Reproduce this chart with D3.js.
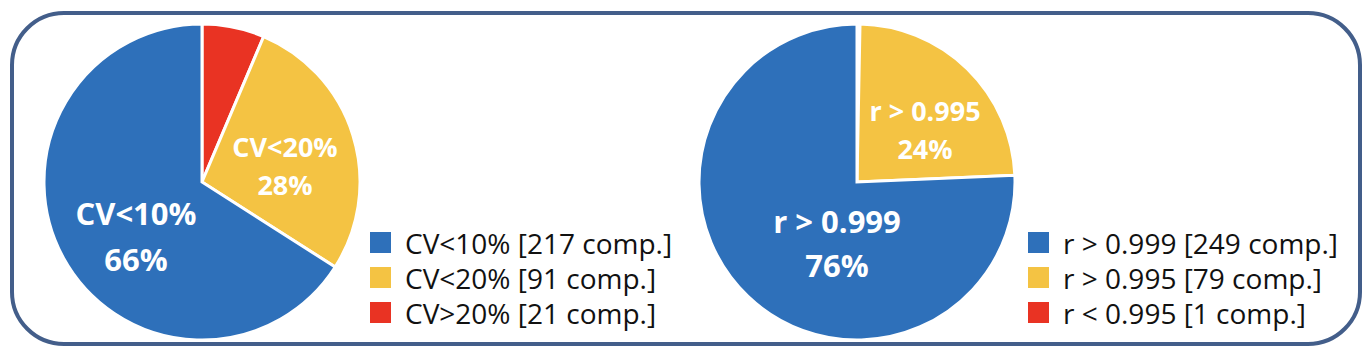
<!DOCTYPE html>
<html><head><meta charset="utf-8">
<script src="https://cdn.jsdelivr.net/npm/d3@7"></script>
<style>html,body{margin:0;padding:0;background:#fff;} svg{display:block;}</style>
</head><body>
<svg id="chart" width="1372" height="358"></svg>
<script>
// Data (legend order)
const cvCategories = ["CV<10%", "CV<20%", "CV>20%"];
const cvValues = [217, 91, 21];
const cvLabels = ["CV<10%", "CV<20%", null];
const cvPercents = ["66%", "28%", null];

const rCategories = ["r > 0.999", "r > 0.995", "r < 0.995"];
const rValues = [249, 79, 1];
const rLabels = ["r > 0.999", "r > 0.995", null];
const rPercents = ["76%", "24%", null];

const colors = ["#2E70BA", "#F4C343", "#E93323"];

const svg = d3.select("#chart");
const FONT = "'Open Sans', 'Liberation Sans', sans-serif";

svg.append("rect").attr("x", 12).attr("y", 13).attr("width", 1348).attr("height", 331)
  .attr("rx", 52).attr("ry", 52).attr("fill", "none").attr("stroke", "#435E8A").attr("stroke-width", 4);

function drawPie(cx, cy, r, cats, vals, labels, pcts, labelPos, legendX, legendY0) {
  const data = cats.map((c, i) => ({cat: c, value: vals[i], color: colors[i], label: labels[i], pct: pcts[i], idx: i}));
  // slices run clockwise from 12 o'clock in reverse legend order
  const pie = d3.pie().sort(null).value(d => d.value);
  const arcs = pie(data.slice().reverse());
  const arc = d3.arc().innerRadius(0).outerRadius(r);
  const g = svg.append("g").attr("transform", `translate(${cx},${cy})`);
  g.selectAll("path").data(arcs).enter().append("path")
    .attr("d", arc).attr("fill", d => d.data.color)
    .attr("stroke", "#fff").attr("stroke-width", 3).attr("stroke-linejoin", "miter");
  // labels
  data.forEach(d => {
    if (!d.label) return;
    const p = labelPos[d.idx];
    const t = svg.append("g");
    t.append("text").attr("x", p.x).attr("y", p.y1).attr("text-anchor", "middle")
      .attr("font-family", FONT).attr("font-weight", "bold").attr("font-size", p.size)
      .attr("fill", "#fff").text(d.label);
    t.append("text").attr("x", p.x).attr("y", p.y2).attr("text-anchor", "middle")
      .attr("font-family", FONT).attr("font-weight", "bold").attr("font-size", p.size)
      .attr("fill", "#fff").text(d.pct);
  });
  // legend
  const lg = svg.append("g");
  data.forEach((d, i) => {
    const by = legendY0 + i * 35;
    lg.append("rect").attr("x", legendX).attr("y", by - 22).attr("width", 21).attr("height", 21)
      .attr("fill", d.color);
    lg.append("text").attr("x", legendX + 35).attr("y", by)
      .attr("font-family", FONT).attr("font-size", 28).attr("fill", "#111")
      .text(`${d.cat} [${d.value} comp.]`);
  });
}

drawPie(202, 182, 158, cvCategories, cvValues, cvLabels, cvPercents,
  [{x: 136, y1: 225, y2: 271, size: 31}, {x: 285, y1: 157, y2: 195, size: 27}],
  370, 254);
drawPie(857, 182, 158, rCategories, rValues, rLabels, rPercents,
  [{x: 837, y1: 233, y2: 277, size: 31}, {x: 925, y1: 121, y2: 159, size: 27}],
  1028, 254);
</script>
</body></html>
